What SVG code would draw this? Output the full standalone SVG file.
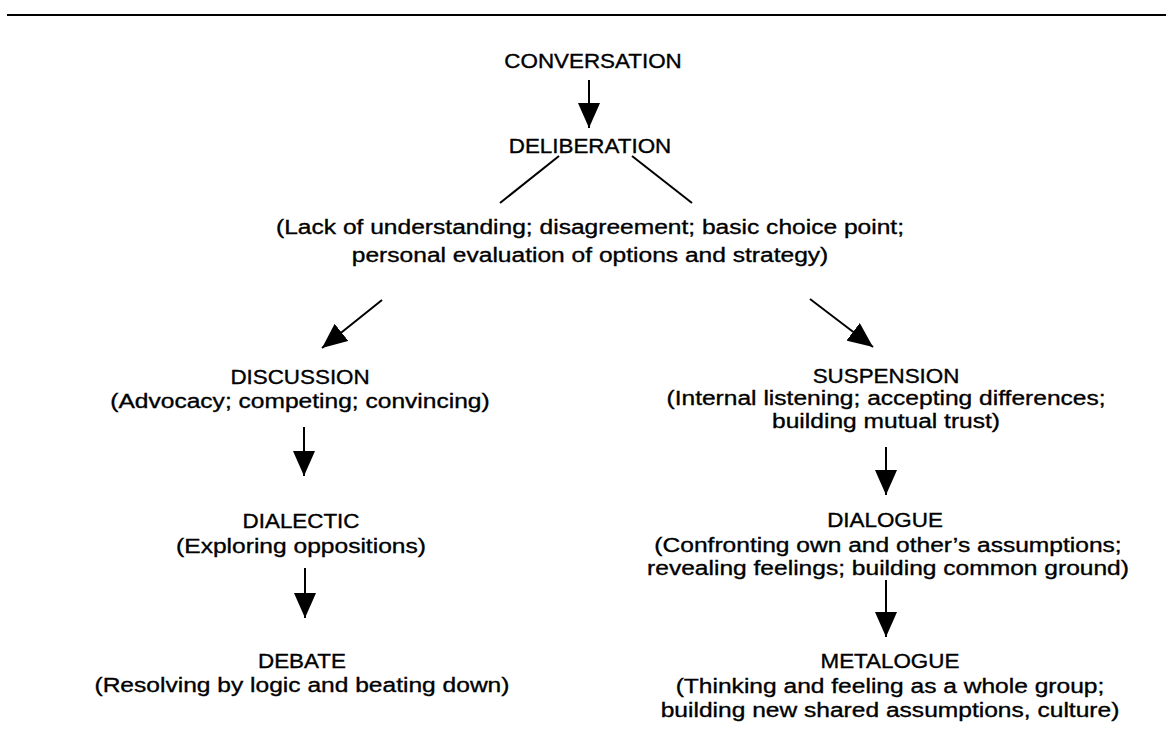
<svg xmlns="http://www.w3.org/2000/svg" width="1166" height="752" viewBox="0 0 1166 752">
<defs>
<style>
.h{font-family:"Liberation Sans",Arial,Helvetica,sans-serif;font-size:20px;fill:#000;stroke:#000;stroke-width:0.35;text-anchor:middle}
.b{font-family:"Liberation Sans",Arial,Helvetica,sans-serif;font-size:21px;fill:#000;stroke:#000;stroke-width:0.35;text-anchor:middle}
.c{stroke:#000;stroke-width:2;fill:none}
</style>
<marker id="ah" viewBox="0 0 25 22" refX="25" refY="11" markerWidth="25" markerHeight="22" markerUnits="userSpaceOnUse" orient="auto">
<path d="M0,0 L25,11 L0,22 z" fill="#000"/>
</marker>
</defs>
<rect width="1166" height="752" fill="#fff"/>
<line x1="7" y1="15" x2="1166" y2="15" stroke="#000" stroke-width="2"/>
<g id="connectors">
<line class="c" x1="589" y1="80" x2="589" y2="128" marker-end="url(#ah)"/>
<line class="c" x1="559" y1="156" x2="500" y2="203"/>
<line class="c" x1="632" y1="156" x2="692" y2="203"/>
<line class="c" x1="382" y1="300" x2="322" y2="348" marker-end="url(#ah)"/>
<line class="c" x1="810" y1="299" x2="873" y2="347" marker-end="url(#ah)"/>
<line class="c" x1="304" y1="427" x2="304" y2="476" marker-end="url(#ah)"/>
<line class="c" x1="305" y1="568" x2="305" y2="618" marker-end="url(#ah)"/>
<line class="c" x1="886" y1="447" x2="886" y2="495" marker-end="url(#ah)"/>
<line class="c" x1="886" y1="580" x2="886" y2="637" marker-end="url(#ah)"/>
</g>
<g id="conversation"><text class="h" transform="scale(1.12,1)" x="529.5" y="68">CONVERSATION</text></g>
<g id="deliberation"><text class="h" transform="scale(1.12,1)" x="526.8" y="153">DELIBERATION</text></g>
<g id="choice">
<text class="b" transform="scale(1.17,1)" x="504.3" y="234">(Lack of understanding; disagreement; basic choice point;</text>
<text class="b" transform="scale(1.17,1)" x="504.3" y="262">personal evaluation of options and strategy)</text>
</g>
<g id="discussion">
<text class="h" transform="scale(1.12,1)" x="267.9" y="384">DISCUSSION</text>
<text class="b" transform="scale(1.17,1)" x="256.4" y="408">(Advocacy; competing; convincing)</text>
</g>
<g id="dialectic">
<text class="h" transform="scale(1.12,1)" x="268.8" y="528">DIALECTIC</text>
<text class="b" transform="scale(1.17,1)" x="257.3" y="553">(Exploring oppositions)</text>
</g>
<g id="debate">
<text class="h" transform="scale(1.12,1)" x="269.6" y="668">DEBATE</text>
<text class="b" transform="scale(1.17,1)" x="258.1" y="692">(Resolving by logic and beating down)</text>
</g>
<g id="suspension">
<text class="h" transform="scale(1.12,1)" x="791.1" y="383">SUSPENSION</text>
<text class="b" transform="scale(1.17,1)" x="757.3" y="405">(Internal listening; accepting differences;</text>
<text class="b" transform="scale(1.17,1)" x="757.3" y="428">building mutual trust)</text>
</g>
<g id="dialogue">
<text class="h" transform="scale(1.12,1)" x="790.2" y="527">DIALOGUE</text>
<text class="b" transform="scale(1.17,1)" x="759" y="552">(Confronting own and other’s assumptions;</text>
<text class="b" transform="scale(1.17,1)" x="759" y="575">revealing feelings; building common ground)</text>
</g>
<g id="metalogue">
<text class="h" transform="scale(1.12,1)" x="794.6" y="668">METALOGUE</text>
<text class="b" transform="scale(1.17,1)" x="760.7" y="693">(Thinking and feeling as a whole group;</text>
<text class="b" transform="scale(1.17,1)" x="760.7" y="717">building new shared assumptions, culture)</text>
</g>
</svg>
